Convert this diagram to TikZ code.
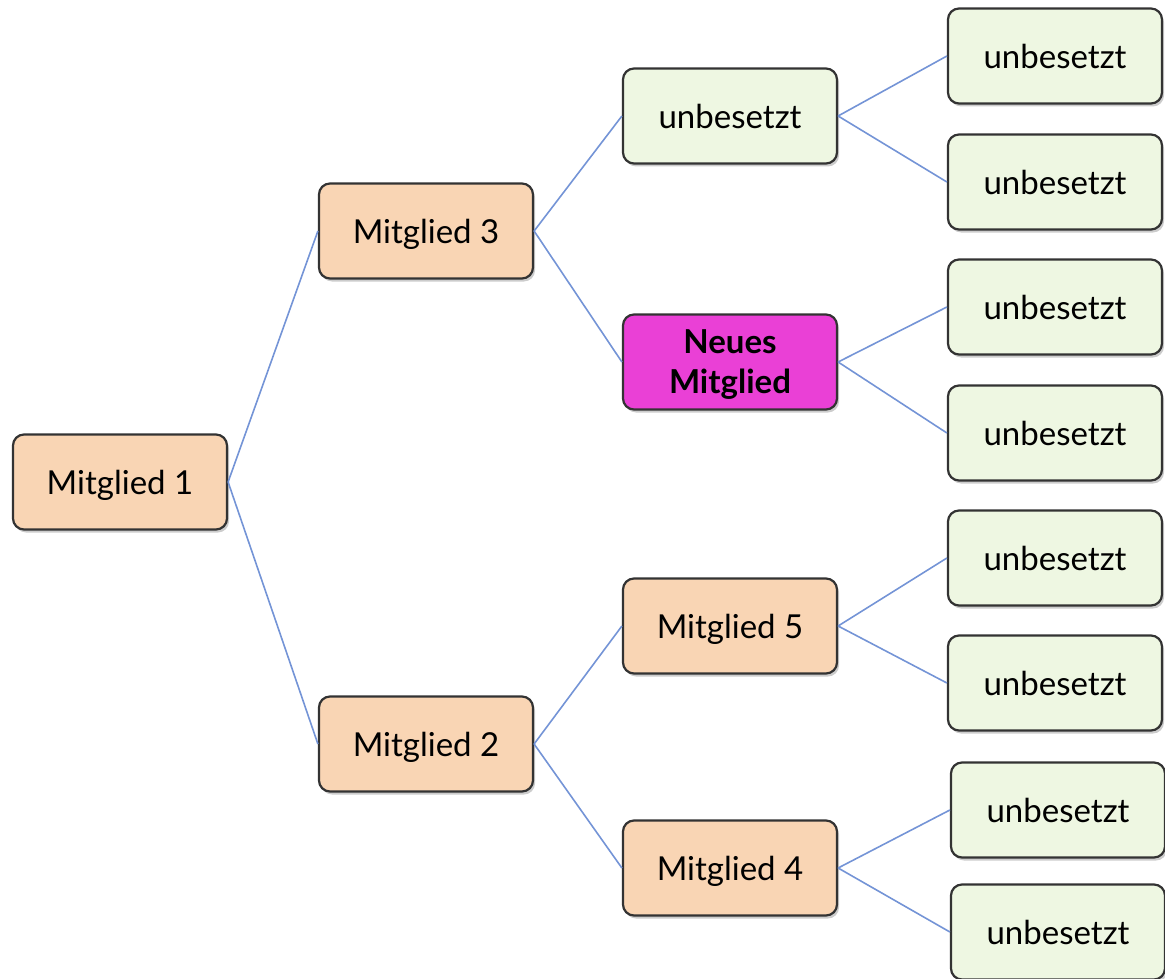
\documentclass[tikz,border=0pt]{standalone}
\usepackage{fontspec}
\setmainfont{Lato}
\usetikzlibrary{shadows}
\definecolor{peach}{RGB}{249,213,180}
\definecolor{pale}{RGB}{238,247,226}
\definecolor{magenta2}{RGB}{234,64,214}
\definecolor{link}{RGB}{116,148,214}
\tikzset{
  x=1pt,y=-1pt,
  box/.style={draw=black!80,line width=2.2pt,rounded corners=11pt,minimum width=214pt,minimum height=95pt,
    align=center,font=\fontsize{33}{40}\selectfont,inner sep=0pt,text depth=0pt,
    drop shadow={shadow xshift=2pt,shadow yshift=-3pt,opacity=0.4}},
  member/.style={box,fill=peach},
  free/.style={box,fill=pale},
  newm/.style={box,fill=magenta2,font=\fontsize{33}{40}\selectfont\bfseries},
  link/.style={draw=link,line width=1.6pt}
}
\begin{document}
\begin{tikzpicture}
\useasboundingbox (0,0) rectangle (1165,979);
\node[member] (m1) at (120,482) {Mitglied 1};
\node[member] (m3) at (426,231) {Mitglied 3};
\node[member] (m2) at (426,744) {Mitglied 2};
\node[free] (u0) at (730,116) {unbesetzt};
\node[newm] (nm) at (730,362) {Neues\\Mitglied};
\node[member] (m5) at (730,626) {Mitglied 5};
\node[member] (m4) at (730,868) {Mitglied 4};
\node[free] (r1) at (1055,56) {unbesetzt};
\node[free] (r2) at (1055,182) {unbesetzt};
\node[free] (r3) at (1055,307) {unbesetzt};
\node[free] (r4) at (1055,433) {unbesetzt};
\node[free] (r5) at (1055,558) {unbesetzt};
\node[free] (r6) at (1055,683) {unbesetzt};
\node[free] (r7) at (1058,810) {unbesetzt};
\node[free] (r8) at (1058,932) {unbesetzt};
\draw[link] (m1.east) -- (m3.west);
\draw[link] (m1.east) -- (m2.west);
\draw[link] (m3.east) -- (u0.west);
\draw[link] (m3.east) -- (nm.west);
\draw[link] (m2.east) -- (m5.west);
\draw[link] (m2.east) -- (m4.west);
\draw[link] (u0.east) -- (r1.west);
\draw[link] (u0.east) -- (r2.west);
\draw[link] (nm.east) -- (r3.west);
\draw[link] (nm.east) -- (r4.west);
\draw[link] (m5.east) -- (r5.west);
\draw[link] (m5.east) -- (r6.west);
\draw[link] (m4.east) -- (r7.west);
\draw[link] (m4.east) -- (r8.west);
\end{tikzpicture}
\end{document}
